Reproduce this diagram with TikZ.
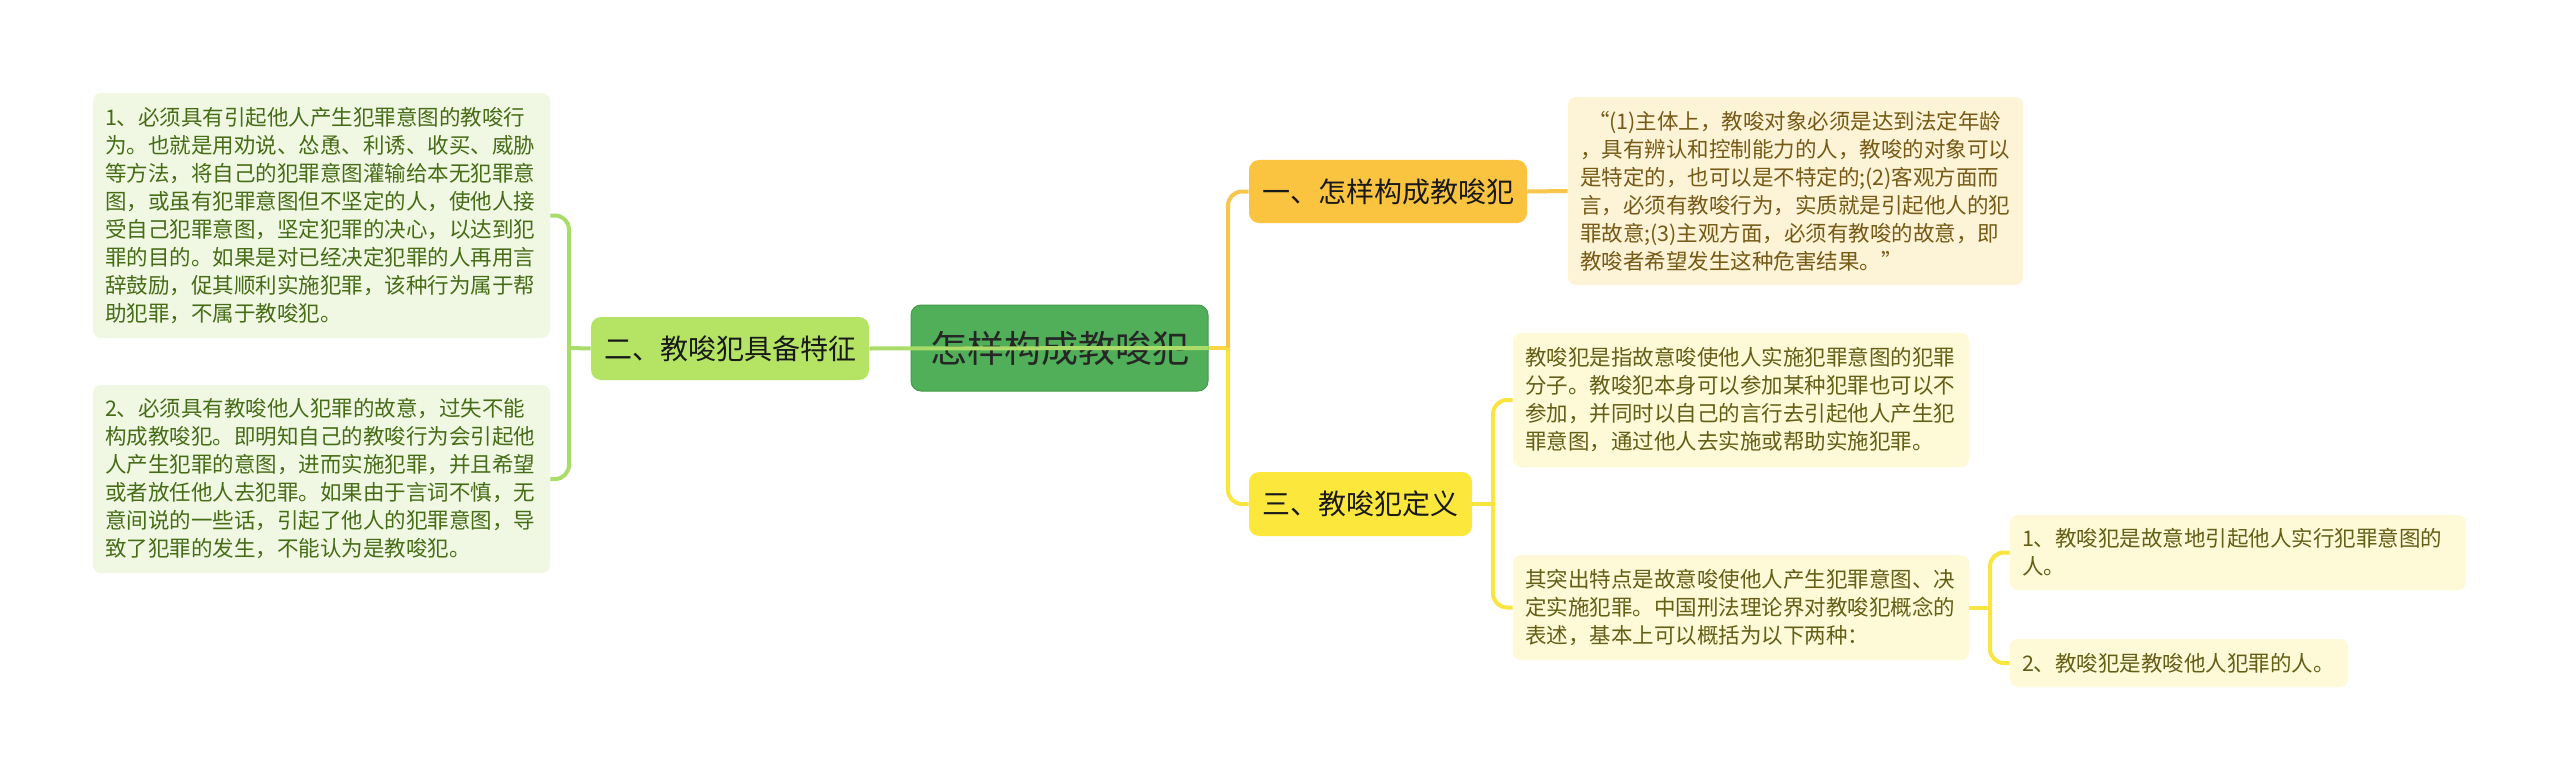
\documentclass[tikz,border=0pt]{standalone}
\usepackage{fontspec}
\setmainfont{Noto Sans CJK SC}
\usetikzlibrary{calc}
\definecolor{rootfill}{RGB}{80,175,88}
\definecolor{rootdraw}{RGB}{67,155,72}
\definecolor{greenfill}{RGB}{181,228,100}
\definecolor{orangefill}{RGB}{251,196,64}
\definecolor{yellowfill}{RGB}{252,232,60}
\definecolor{greenleaf}{RGB}{240,248,228}
\definecolor{creamleaf}{RGB}{253,243,214}
\definecolor{yellowleaf}{RGB}{254,249,214}
\definecolor{greentext}{RGB}{70,108,22}
\definecolor{browntext}{RGB}{118,90,22}
\definecolor{olivetext}{RGB}{100,94,22}
\definecolor{greenline}{RGB}{170,220,105}
\definecolor{orangeline}{RGB}{248,198,74}
\definecolor{yellowline}{RGB}{250,228,62}
\definecolor{midline}{RGB}{249,214,70}
\newcommand{\leaffont}{\fontsize{10.75pt}{14pt}\selectfont}
\newcommand{\headfont}{\fontsize{14pt}{16pt}\selectfont}
\newcommand{\rootfont}{\fontsize{18.5pt}{20pt}\selectfont}
\begin{document}
\begin{tikzpicture}[x=0.5pt,y=-0.5pt,
  leafbox/.style={rounded corners=4pt, inner xsep=6pt, inner ysep=0pt, align=left, anchor=center, font=\leaffont},
  headbox/.style={rounded corners=5pt, inner sep=0pt, align=center, anchor=center, font=\headfont, text=black!90},
  conn/.style={line width=2pt, rounded corners=7pt}
]
\useasboundingbox[fill=white] (0,0) rectangle (2560,781);

% root and main branches
\node[rounded corners=5pt, fill=rootfill, draw=rootdraw, line width=0.5pt, inner sep=0pt,
      minimum width=148.5pt, minimum height=43pt, font=\rootfont, text=black!85] (root) at (1059.5,348) {怎样构成教唆犯};
\node[headbox, fill=greenfill, minimum width=139pt, minimum height=31.5pt] (n2) at (730,348.5) {二、教唆犯具备特征};
\node[headbox, fill=orangefill, minimum width=139pt, minimum height=31.5pt] (n1) at (1388,191.5) {一、怎样构成教唆犯};
\node[headbox, fill=yellowfill, minimum width=111.5pt, minimum height=32pt] (n3) at (1360.5,504) {三、教唆犯定义};

% left leaves
\node[leafbox, fill=greenleaf, text=greentext, text width=216.5pt, minimum height=122.5pt] (L1) at (321.5,215.5) {1、必须具有引起他人产生犯罪意图的教唆行\\为。也就是用劝说、怂恿、利诱、收买、威胁\\等方法，将自己的犯罪意图灌输给本无犯罪意\\图，或虽有犯罪意图但不坚定的人，使他人接\\受自己犯罪意图，坚定犯罪的决心，以达到犯\\罪的目的。如果是对已经决定犯罪的人再用言\\辞鼓励，促其顺利实施犯罪，该种行为属于帮\\助犯罪，不属于教唆犯。};
\node[leafbox, fill=greenleaf, text=greentext, text width=216.5pt, minimum height=94pt] (L2) at (321.5,479) {2、必须具有教唆他人犯罪的故意，过失不能\\构成教唆犯。即明知自己的教唆行为会引起他\\人产生犯罪的意图，进而实施犯罪，并且希望\\或者放任他人去犯罪。如果由于言词不慎，无\\意间说的一些话，引起了他人的犯罪意图，导\\致了犯罪的发生，不能认为是教唆犯。};

% right leaves
\node[leafbox, fill=creamleaf, text=browntext, text width=215.5pt, minimum height=94pt] (Q) at (1795.5,191) {\hspace{4pt}“(1)主体上，教唆对象必须是达到法定年龄\\，具有辨认和控制能力的人，教唆的对象可以\\是特定的，也可以是不特定的;(2)客观方面而\\言，必须有教唆行为，实质就是引起他人的犯\\罪故意;(3)主观方面，必须有教唆的故意，即\\教唆者希望发生这种危害结果。”};
\node[leafbox, fill=yellowleaf, text=olivetext, text width=216pt, minimum height=67pt] (B) at (1741,400) {教唆犯是指故意唆使他人实施犯罪意图的犯罪\\分子。教唆犯本身可以参加某种犯罪也可以不\\参加，并同时以自己的言行去引起他人产生犯\\罪意图，通过他人去实施或帮助实施犯罪。};
\node[leafbox, fill=yellowleaf, text=olivetext, text width=216pt, minimum height=52.5pt] (C) at (1741,607.5) {其突出特点是故意唆使他人产生犯罪意图、决\\定实施犯罪。中国刑法理论界对教唆犯概念的\\表述，基本上可以概括为以下两种：};
\node[leafbox, fill=yellowleaf, text=olivetext, text width=216pt, minimum height=37.5pt] (D) at (2238,552.5) {1、教唆犯是故意地引起他人实行犯罪意图的\\人。};
\node[leafbox, fill=yellowleaf, text=olivetext, text width=157pt, minimum height=24pt] (E) at (2179,663) {2、教唆犯是教唆他人犯罪的人。};

% junctions
\coordinate (jL) at (569,348);
\coordinate (jR) at (1228,348);
\coordinate (j3) at (1493,504);
\coordinate (j4) at (1990,607.5);

% left connectors
\draw[conn, greenline] (n2.west) -- (jL);
\draw[conn, greenline] (jL) |- (L1.east);
\draw[conn, greenline] (jL) |- (L2.east);
\draw[conn, greenline] (n2.east) -- (root.east);

% right connectors
\draw[conn, midline] (root.east) -- (jR);
\draw[conn, orangeline] (jR) |- (n1.west);
\draw[conn, yellowline] (jR) |- (n3.west);
\draw[conn, orangeline] (n1.east) -- (Q.west);
\draw[conn, yellowline] (n3.east) -- (j3);
\draw[conn, yellowline] (j3) |- (B.west);
\draw[conn, yellowline] (j3) |- (C.west);
\draw[conn, yellowline] (C.east) -- (j4);
\draw[conn, yellowline] (j4) |- (D.west);
\draw[conn, yellowline] (j4) |- (E.west);
\end{tikzpicture}
\end{document}
